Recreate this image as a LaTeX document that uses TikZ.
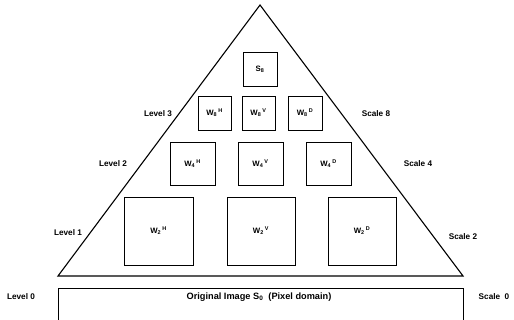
\documentclass[tikz,border=0pt]{standalone}
\usepackage{fontspec}
\setmainfont{Liberation Sans}
% wavelet band label: W with scale subscript and orientation superscript
\newcommand{\wband}[2]{W\rlap{\textsubscript{#1}}\hspace{0.6em}\textsuperscript{#2}}
\begin{document}
\begin{tikzpicture}[x=1pt,y=-1pt,
  box/.style={draw,line width=0.9pt,inner sep=0pt,font=\fontsize{7.8}{9}\selectfont\bfseries},
  side/.style={font=\fontsize{8.2}{10}\selectfont\bfseries}]
\useasboundingbox (0,0) rectangle (514,320);

% pyramid outline
\coordinate (apex) at (260,5);
\coordinate (bl) at (58,276);
\coordinate (br) at (463,276);
\draw[line width=1.1pt,line join=miter] (bl) -- (apex) -- (br) -- cycle;

% original image strip (continues below the page edge)
\coordinate (ol) at (58,324);
\coordinate (otl) at (58,288);
\coordinate (otr) at (463,288);
\coordinate (or) at (463,324);
\draw[line width=0.9pt] (ol) -- (otl) -- (otr) -- (or);
\node[font=\fontsize{9.2}{11}\selectfont\bfseries] (orig) at (259,297) {Original Image S\textsubscript{0}\ \ (Pixel domain)};

% coarsest approximation
\node[box,minimum width=34pt,minimum height=34pt] (s8) at (260,69) {S\textsubscript{8}};

% level 3 detail bands
\node[box,minimum width=33pt,minimum height=34pt] (w8h) at (214.5,113) {\wband{8}{H}};
\node[box,minimum width=33pt,minimum height=34pt] (w8v) at (258.5,113) {\wband{8}{V}};
\node[box,minimum width=34pt,minimum height=34pt] (w8d) at (305,113) {\wband{8}{D}};

% level 2 detail bands
\node[box,minimum width=45pt,minimum height=43pt] (w4h) at (192.5,163.5) {\wband{4}{H}};
\node[box,minimum width=45pt,minimum height=43pt] (w4v) at (260.5,163.5) {\wband{4}{V}};
\node[box,minimum width=45pt,minimum height=43pt] (w4d) at (328.5,163.5) {\wband{4}{D}};

% level 1 detail bands
\node[box,minimum width=69pt,minimum height=68pt] (w2h) at (158.5,231) {\wband{2}{H}};
\node[box,minimum width=68pt,minimum height=68pt] (w2v) at (261,231) {\wband{2}{V}};
\node[box,minimum width=68pt,minimum height=68pt] (w2d) at (362,231) {\wband{2}{D}};

% level and scale annotations
\node[side] (lv3) at (158,114) {Level 3};
\node[side] (lv2) at (113,164) {Level 2};
\node[side] (lv1) at (68,233) {Level 1};
\node[side] (lv0) at (21,297) {Level 0};
\node[side] (sc8) at (376,114) {Scale 8};
\node[side] (sc4) at (418,164) {Scale 4};
\node[side] (sc2) at (463,237) {Scale 2};
\node[side] (sc0) at (494,297) {Scale\ \ 0};
\end{tikzpicture}
\end{document}
